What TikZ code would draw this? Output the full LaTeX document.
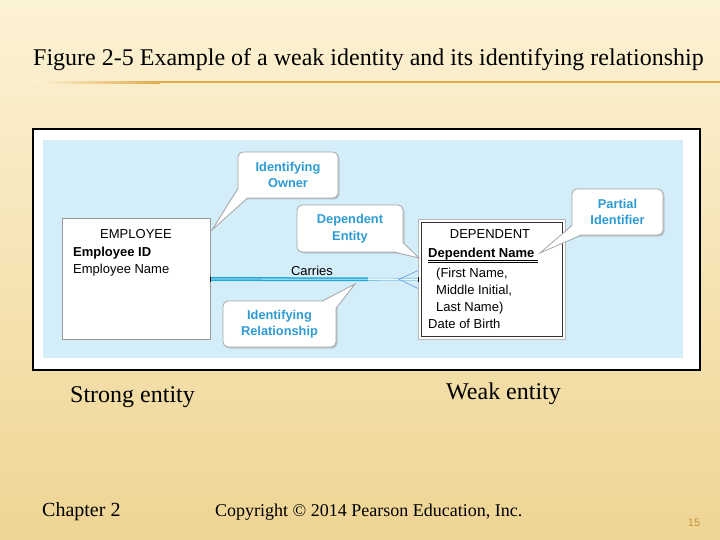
\documentclass[tikz,border=0pt]{standalone}
\usepackage{fontspec}
\setmainfont{Liberation Serif}
\setsansfont{Liberation Sans}
\usetikzlibrary{calc,shadows}

\definecolor{slidetop}{RGB}{252,242,212}
\definecolor{slidebot}{RGB}{238,213,148}
\definecolor{ruleorange}{RGB}{226,170,76}
\definecolor{panelblue}{RGB}{211,237,249}
\definecolor{callblue}{RGB}{45,155,210}
\definecolor{relblue}{RGB}{30,168,220}
\definecolor{rellight}{RGB}{120,190,230}
\definecolor{pagegold}{RGB}{200,150,60}

\tikzset{
  entity/.style={draw=gray!80, fill=white, line width=0.8pt, inner sep=0pt},
  weakentity/.style={draw=gray!55, fill=white, line width=1pt, inner sep=0pt},
  attr/.style={anchor=base west, inner sep=0pt, font=\sffamily\fontsize{13}{15}\selectfont},
  callout/.style={draw=gray!70, fill=white, rounded corners=5pt, line width=0.8pt, inner sep=0pt,
    text=callblue, align=center, font=\sffamily\bfseries\fontsize{12.8}{16.5}\selectfont,
    drop shadow={shadow xshift=1.5pt, shadow yshift=-1.5pt, opacity=0.35}},
  pointer/.style={draw=gray!70, line width=0.8pt},
  relline/.style={draw=relblue, line width=1.5pt, double=cyan!15!white, double distance=0.8pt},
  rellite/.style={draw=rellight, line width=0.6pt, double=panelblue!50!white, double distance=1.8pt},
  slidetext/.style={anchor=base west, inner sep=0pt},
}

\begin{document}
\begin{tikzpicture}[x=1pt,y=-1pt]
  \useasboundingbox (0,0) rectangle (720,540);

  %Slide background
  \shade[top color=slidetop, bottom color=slidebot] (0,0) rectangle (720,540);

  %Title and rule
  \node[slidetext, font=\fontsize{24}{28}\selectfont] (title) at (33,66)
    {Figure 2-5 Example of a weak identity and its identifying relationship};
  \shade[left color=slidetop, right color=ruleorange] (35,81.5) rectangle (160,83.5);
  \fill[ruleorange] (160,81.5) rectangle (720,83.5);

  %Picture frame and panel
  \draw[line width=2.2pt, fill=white] (33,129) rectangle (700,370);
  \fill[panelblue] (43,140) rectangle (683,358);

  %Strong entity
  \node[entity, minimum width=148, minimum height=121] (emp) at (136,279) {};
  \node[anchor=base, inner sep=0pt, font=\sffamily\fontsize{13}{15}\selectfont] (emptitle) at (136,239) {EMPLOYEE};
  \node[attr, font=\sffamily\bfseries\fontsize{13}{15}\selectfont] (empid) at (73,256) {Employee ID};
  \node[attr] (empname) at (73,273) {Employee Name};

  %Weak entity
  \node[weakentity, minimum width=147, minimum height=120] (dep) at (492,279.5) {};
  \draw[draw=gray!40!black, line width=0.8pt] ($(dep.north west)+(3.5,3.5)$) rectangle ($(dep.south east)+(-3.5,-3.5)$);
  \node[anchor=base, inner sep=0pt, font=\sffamily\fontsize{13}{15}\selectfont] (deptitle) at (490,239) {DEPENDENT};
  \node[attr, font=\sffamily\bfseries\fontsize{13}{15}\selectfont] (depname) at (428,257) {Dependent Name};
  \draw[line width=1.3pt] ($(depname.base west)+(0,3.2)$) -- ($(depname.base east)+(3,3.2)$);
  \draw[line width=0.6pt] ($(depname.base west)+(0,5.6)$) -- ($(depname.base east)+(3,5.6)$);
  \node[attr] (depfirst) at (436,277) {(First Name,};
  \node[attr] (depmiddle) at (436,294) {Middle Initial,};
  \node[attr] (deplast) at (436,311) {Last Name)};
  \node[attr] (depbirth) at (428,328) {Date of Birth};

  %Identifying relationship with crow's foot
  \coordinate (split) at (368,279.3);
  \coordinate (crow) at (399,279.3);
  \draw[relline] (emp.east) -- (split);
  \draw[rellite] (split) -- (dep.west);
  \draw[rellight!80!blue, line width=0.6pt] ($(dep.west)+(0,-9)$) -- (crow) -- ($(dep.west)+(0,9)$);
  \draw[line width=1pt] ($(emp.east)+(0,-2.5)$) -- ($(emp.east)+(0,2.5)$);
  \draw[line width=1pt] ($(dep.west)+(0,-2.5)$) -- ($(dep.west)+(0,2.5)$);
  \node[anchor=base, inner sep=0pt, font=\sffamily\fontsize{13}{15}\selectfont] (carries) at (312,275) {Carries};

  %Callouts
  \node[callout, minimum width=100, minimum height=46] (owner) at (288,175) {Identifying\\Owner};
  \node[callout, minimum width=106, minimum height=47] (depent) at (350,228.5) {Dependent\\Entity};
  \node[callout, minimum width=113, minimum height=46] (idrel) at (279.5,324) {Identifying\\Relationship};
  \node[callout, minimum width=91, minimum height=46] (partial) at (617.5,212) {Partial\\Identifier};

  %Callout pointers
  \coordinate (ownertip) at (212,230);
  \coordinate (depenttip) at (419,258);
  \coordinate (idreltip) at (355,284);
  \coordinate (partialtip) at (540,253);

  \fill[white] ($(owner.south west)+(1.2,-10)$) -- (ownertip) -- ($(owner.south west)+(10,-1.2)$) -- cycle;
  \draw[pointer] ($(owner.south west)+(0.4,-10)$) -- (ownertip) -- ($(owner.south west)+(10,-0.4)$);

  \fill[white] ($(depent.south east)+(-10,-1.2)$) -- (depenttip) -- ($(depent.south east)+(-1.2,-10)$) -- cycle;
  \draw[pointer] ($(depent.south east)+(-10,-0.4)$) -- (depenttip) -- ($(depent.south east)+(-0.4,-10)$);

  \fill[white] ($(idrel.north east)+(-14,1.2)$) -- (idreltip) -- ($(idrel.north east)+(-1.2,8)$) -- cycle;
  \draw[pointer] ($(idrel.north east)+(-14,0.4)$) -- (idreltip) -- ($(idrel.north east)+(-0.4,8)$);

  \fill[white] ($(partial.south west)+(1.2,-10)$) -- (partialtip) -- ($(partial.south west)+(10,-1.2)$) -- cycle;
  \draw[pointer] ($(partial.south west)+(0.4,-10)$) -- (partialtip) -- ($(partial.south west)+(10,-0.4)$);

  %Captions
  \node[slidetext, font=\fontsize{24}{28}\selectfont] (strong) at (70,402) {Strong entity};
  \node[slidetext, font=\fontsize{24}{28}\selectfont] (weak) at (446,399) {Weak entity};

  %Footer
  \node[slidetext, font=\fontsize{20}{22}\selectfont] (chapter) at (42,516) {Chapter 2};
  \node[slidetext, font=\fontsize{18}{22}\selectfont] (copyright) at (215,516) {Copyright © 2014 Pearson Education, Inc.};
  \node[anchor=base, inner sep=0pt, text=pagegold, font=\sffamily\fontsize{11}{13}\selectfont] (pagenum) at (694,526) {15};

\end{tikzpicture}
\end{document}
